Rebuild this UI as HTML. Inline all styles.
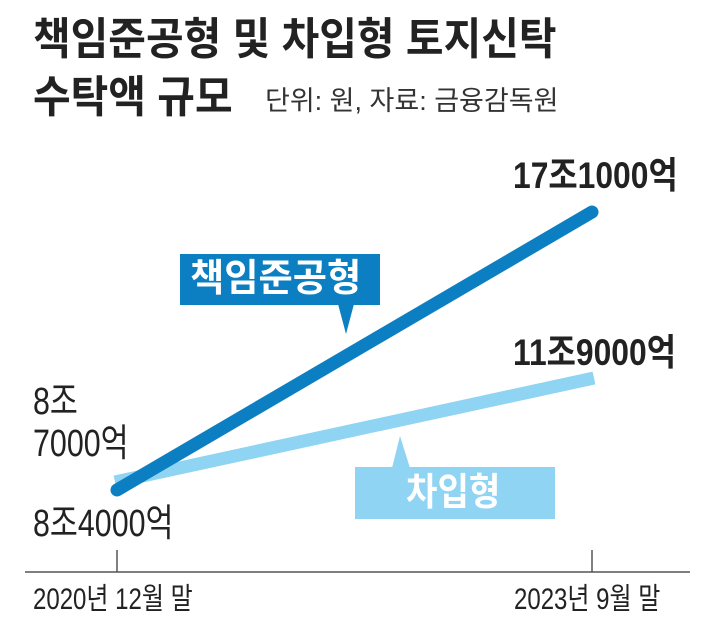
<!DOCTYPE html>
<html><head><meta charset="utf-8"><style>
body{margin:0;width:707px;height:629px;background:#fff;overflow:hidden;font-family:"Liberation Sans","Noto Sans CJK KR",sans-serif;color:#222}
.t{position:absolute;white-space:nowrap;transform-origin:left top;line-height:1}
</style></head><body>
<div class="t" style="left:33px;top:18px;font-size:44px;font-weight:bold;transform:scaleX(0.93)">책임준공형 및 차입형 토지신탁</div>
<div class="t" style="left:33px;top:76px;font-size:44px;font-weight:bold;transform:scaleX(0.93)">수탁액 규모</div>
<div class="t" style="left:265px;top:88px;font-size:27px;color:#333;transform:scaleX(1)">단위: 원, 자료: 금융감독원</div>
<svg width="707" height="629" style="position:absolute;left:0;top:0">
<line x1="115" y1="482" x2="594" y2="378" stroke="#8fd4f2" stroke-width="13" stroke-linecap="butt"/>
<line x1="117" y1="490" x2="592" y2="212" stroke="#0b7fc1" stroke-width="13" stroke-linecap="round"/>
<rect x="180" y="254" width="200" height="51" fill="#0b7fc1"/>
<polygon points="338,304 354,304 346,334" fill="#0b7fc1"/>
<rect x="355" y="467" width="200" height="52" fill="#8fd4f2"/>
<polygon points="392,468 410,468 400,436" fill="#8fd4f2"/>
<line x1="25" y1="572" x2="690" y2="572" stroke="#555" stroke-width="1.5"/>
<line x1="117" y1="550" x2="117" y2="572" stroke="#555" stroke-width="1.5"/>
<line x1="592" y1="550" x2="592" y2="572" stroke="#555" stroke-width="1.5"/>
</svg>
<div class="t" style="left:190px;top:260px;font-size:38px;font-weight:bold;color:#fff;transform:scaleX(0.98)">책임준공형</div>
<div class="t" style="left:406px;top:474px;font-size:38px;font-weight:bold;color:#fff;transform:scaleX(0.9)">차입형</div>
<div class="t" style="left:513px;top:157px;font-size:37px;font-weight:bold;transform:scaleX(0.86)">17조1000억</div>
<div class="t" style="left:513px;top:334px;font-size:37px;font-weight:bold;transform:scaleX(0.86)">11조9000억</div>
<div class="t" style="left:33px;top:383px;font-size:38px;transform:scaleX(0.8)">8조</div>
<div class="t" style="left:33px;top:425px;font-size:38px;transform:scaleX(0.8)">7000억</div>
<div class="t" style="left:33px;top:505px;font-size:38px;transform:scaleX(0.8)">8조4000억</div>
<div class="t" style="left:33px;top:585px;font-size:30px;transform:scaleX(0.8)">2020년 12월 말</div>
<div class="t" style="left:514px;top:585px;font-size:30px;transform:scaleX(0.8)">2023년 9월 말</div>
</body></html>
